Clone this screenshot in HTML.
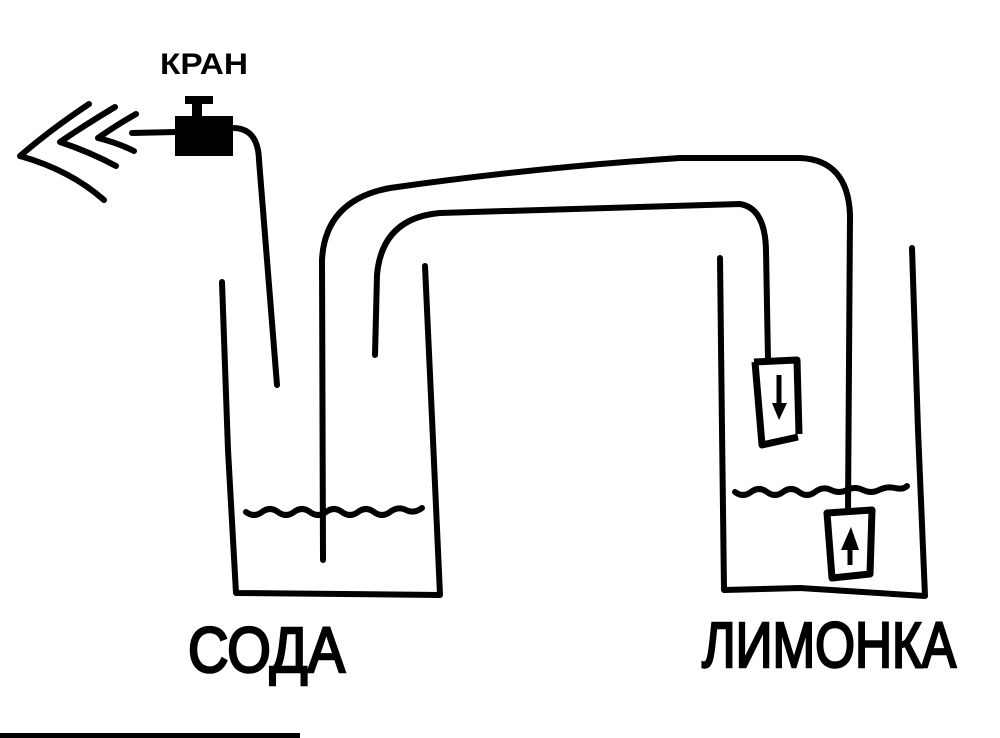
<!DOCTYPE html>
<html><head><meta charset="utf-8"><style>
html,body{margin:0;padding:0;background:#fff;width:1000px;height:738px;overflow:hidden}
svg{display:block}
</style></head><body>
<svg width="1000" height="738" viewBox="0 0 1000 738" xmlns="http://www.w3.org/2000/svg">
<g fill="none" stroke="#000" stroke-width="6" stroke-linecap="round" stroke-linejoin="round">
<path d="M222 282 L228 450 L236 593 L440 595 L433 440 L425 266"/>
<path d="M720 258 L722 430 L724 590 L800 588 L925 596 L918 430 L912 248"/>
<path d="M246 512 q8 6 16 0 t16 0 t16 0 t16 0 t16 0 t16 0 t16 0 t16 0 t16 0 t16 -2 t16 -2"/>
<path d="M735 492 q8 6 16 0 t16 0 t16 0 t16 0 t16 0 t16 -2 t16 0 t16 0 t16 0 t16 -2 t12 -2"/>
<path d="M323 560 L322 260 Q325 200 390 188 Q530 168 680 158 L800 158 Q848 160 850 215 L848 512"/>
<path d="M375 355 L377 275 Q382 218 440 213 L740 204 Q765 208 766 250 L768 360"/>
<path d="M233 128 Q258 128 259 160 L277 385"/>
<path d="M132 133 L176 132"/>
<path d="M89 104 Q50 130 20 156 Q70 170 104 200"/>
<path d="M115 107 Q85 125 60 142 Q90 152 116 166"/>
<path d="M136 114 Q115 126 98 138 Q118 143 134 151"/>
</g>
<g fill="none" stroke="#000" stroke-width="7" stroke-linejoin="round">
<path d="M754 362 L797 360 L799 434 M798 437 L762 445 L755 362"/>
<path d="M827 513 L872 510 L870 574 L832 578 Z"/>
</g>
<rect x="175" y="116" width="58" height="40" fill="#000"/>
<rect x="192" y="100" width="10" height="18" fill="#000"/>
<rect x="185" y="96" width="28" height="8" fill="#000"/>
<path d="M779 375 L779 405" stroke="#000" stroke-width="5"/>
<polygon points="772,403 787,403 779,420" fill="#000"/>
<path d="M850 565 L850 545" stroke="#000" stroke-width="5"/>
<polygon points="841,550 859,550 851,527" fill="#000"/>
<rect x="0" y="733" width="300" height="5" fill="#000"/>
<g font-family="'Liberation Sans','DejaVu Sans',sans-serif" fill="#000">
<text x="160" y="74" font-size="30" font-weight="bold" textLength="88" lengthAdjust="spacingAndGlyphs">КРАН</text>
<text x="188" y="672" font-size="64" stroke="#000" stroke-width="2.5" textLength="157" lengthAdjust="spacingAndGlyphs">СОДА</text>
<text x="702" y="667" font-size="64" stroke="#000" stroke-width="2.5" textLength="254" lengthAdjust="spacingAndGlyphs">ЛИМОНКА</text>
</g>
</svg>
</body></html>
